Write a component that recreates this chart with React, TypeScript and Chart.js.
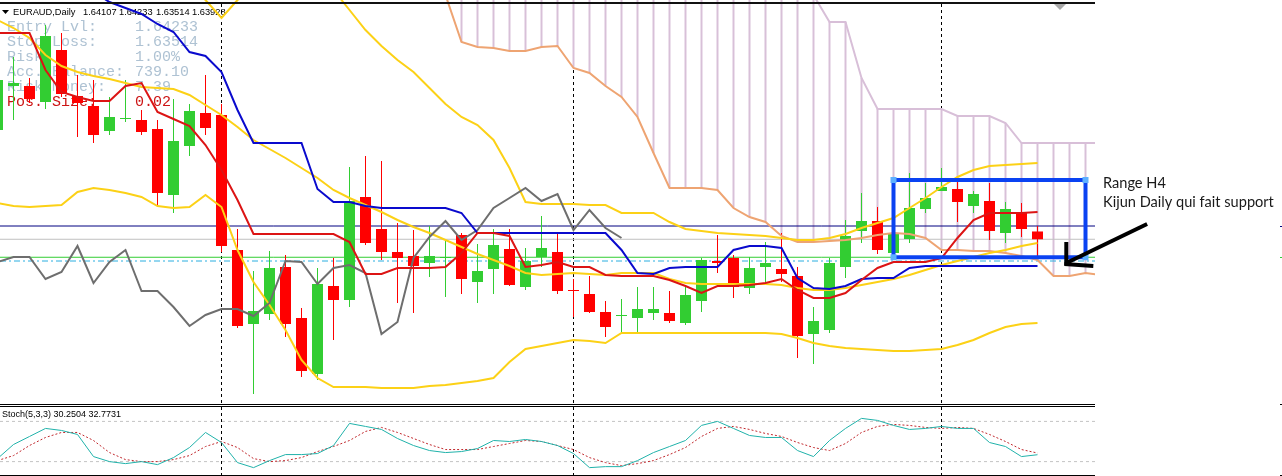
import React, { useEffect, useRef } from "react";
import { Chart, registerables } from "chart.js";

Chart.register(...registerables);

// ---------- DATA (EURAUD, Daily) ----------
// candle index k = 0..65 (oldest → newest)
const OPEN = [
  1.66441, 1.67453, 1.67453, 1.67085, 1.68281, 1.67223, 1.66993, 1.66418, 1.66694, 1.66671,
  1.66464, 1.64946, 1.66073, 1.66832, 1.66786, 1.63681, 1.61979, 1.62209, 1.63290, 1.62117,
  1.60829, 1.62853, 1.62531, 1.64900, 1.64164, 1.63635, 1.63543, 1.63382, 1.63497, 1.64026,
  1.62945, 1.63244, 1.63704, 1.62830, 1.63520, 1.63635, 1.62761, 1.62669, 1.62255, 1.62163,
  1.62117, 1.62232, 1.62232, 1.62002, 1.62508, 1.63428, 1.63497, 1.62807, 1.63290, 1.63244,
  1.63083, 1.61749, 1.61841, 1.63290, 1.64118, 1.64348, 1.63612, 1.63934, 1.64624, 1.65038,
  1.65084, 1.64693, 1.64808, 1.64072, 1.64555, 1.64107,
];
const HIGH = [
  1.67706, 1.68120, 1.67637, 1.68856, 1.68672, 1.67706, 1.67591, 1.67200, 1.67591, 1.66901,
  1.66671, 1.67154, 1.67039, 1.67706, 1.67039, 1.64164, 1.63198, 1.63658, 1.63566, 1.62347,
  1.63267, 1.63497, 1.65590, 1.65843, 1.65728, 1.64302, 1.64141, 1.64233, 1.63911, 1.64072,
  1.63819, 1.64164, 1.64164, 1.63727, 1.64463, 1.64049, 1.63014, 1.63083, 1.62508, 1.62554,
  1.62830, 1.62830, 1.62738, 1.62876, 1.63497, 1.64026, 1.63566, 1.63520, 1.63865, 1.64072,
  1.63290, 1.62370, 1.63497, 1.64371, 1.64992, 1.64670, 1.64072, 1.65452, 1.65222, 1.65567,
  1.65360, 1.65038, 1.65222, 1.64785, 1.64762, 1.64233,
];
const LOW = [
  1.66326, 1.66671, 1.67062, 1.66924, 1.67200, 1.66280, 1.66142, 1.66326, 1.66625, 1.66326,
  1.64670, 1.64532, 1.65843, 1.66326, 1.63635, 1.61887, 1.60369, 1.62071, 1.61680, 1.60760,
  1.60691, 1.61611, 1.62370, 1.63796, 1.63451, 1.62462, 1.62232, 1.63060, 1.62600, 1.62669,
  1.62462, 1.62669, 1.62853, 1.62761, 1.63290, 1.62669, 1.62140, 1.62232, 1.61680, 1.61772,
  1.61772, 1.62071, 1.62002, 1.61956, 1.62255, 1.63152, 1.62577, 1.62669, 1.62922, 1.62945,
  1.61197, 1.61059, 1.61772, 1.63037, 1.63842, 1.63589, 1.63589, 1.63842, 1.64532, 1.65038,
  1.64325, 1.64532, 1.63911, 1.63842, 1.63980, 1.63514,
];
const CLOSE = [
  1.67591, 1.67522, 1.67154, 1.68603, 1.67269, 1.67062, 1.66326, 1.66740, 1.66717, 1.66395,
  1.64992, 1.66188, 1.66878, 1.66487, 1.63773, 1.61933, 1.62278, 1.63267, 1.61979, 1.60898,
  1.62899, 1.62531, 1.64808, 1.63842, 1.63635, 1.63497, 1.63313, 1.63543, 1.63520, 1.63014,
  1.63198, 1.63796, 1.62876, 1.63428, 1.63727, 1.62738, 1.62738, 1.62255, 1.61910, 1.62186,
  1.62324, 1.62324, 1.62048, 1.62646, 1.63451, 1.63382, 1.62830, 1.63267, 1.63382, 1.63129,
  1.61703, 1.62048, 1.63382, 1.64003, 1.64348, 1.63681, 1.64049, 1.64647, 1.64877, 1.65130,
  1.64785, 1.64969, 1.64118, 1.64624, 1.64164, 1.63928,
];

// Ichimoku
const TENKAN = [
  1.68672, 1.68672, 1.68672, 1.67821, 1.67315, 1.67200, 1.67108, 1.67108, 1.67453, 1.67522,
  1.66855, 1.66694, 1.66533, 1.66096, 1.65521, 1.64831, 1.64049, 1.64049, 1.64049, 1.64049,
  1.64049, 1.64049, 1.63865, 1.63129, 1.63129, 1.63267, 1.63267, 1.63267, 1.63290, 1.63612,
  1.64072, 1.64072, 1.64003, 1.63290, 1.63336, 1.63405, 1.63290, 1.63290, 1.63106, 1.63083,
  1.63083, 1.63083, 1.62991, 1.62853, 1.62692, 1.62853, 1.62853, 1.62876, 1.62922, 1.63014,
  1.62761, 1.62577, 1.62577, 1.62692, 1.62991, 1.63267, 1.63405, 1.63405, 1.63405, 1.63497,
  1.63957, 1.64371, 1.64532, 1.64532, 1.64532, 1.64555,
];
const KIJUN = [
  1.69891, 1.69891, 1.69891, 1.69891, 1.69891, 1.69891, 1.69615, 1.69385, 1.69247, 1.69109,
  1.68879, 1.68695, 1.68235, 1.68143, 1.67775, 1.66901, 1.66142, 1.66142, 1.66142, 1.66142,
  1.65084, 1.64785, 1.64785, 1.64693, 1.64647, 1.64647, 1.64647, 1.64647, 1.64647, 1.64532,
  1.64072, 1.64072, 1.64072, 1.64072, 1.64072, 1.64072, 1.64072, 1.64072, 1.64072, 1.63681,
  1.63152, 1.63129, 1.63267, 1.63290, 1.63290, 1.63290, 1.63681, 1.63773, 1.63773, 1.63727,
  1.63037, 1.62807, 1.62784, 1.62853, 1.63014, 1.63037, 1.63037, 1.63267, 1.63313, 1.63313,
  1.63313, 1.63313, 1.63313, 1.63313, 1.63313, 1.63313,
];
// Chikou span, plotted on candles k = 0..39
const CHIKOU = [
  1.63405, 1.63520, 1.63520, 1.63014, 1.63175, 1.63773, 1.62922, 1.63405, 1.63681, 1.62738,
  1.62738, 1.62370, 1.61933, 1.62186, 1.62324, 1.62324, 1.62163, 1.62462, 1.63428, 1.63405,
  1.62899, 1.63267, 1.63336, 1.63152, 1.61749, 1.62025, 1.63497, 1.63980, 1.64348, 1.63911,
  1.64141, 1.64647, 1.64877, 1.65107, 1.64808, 1.64969, 1.64141, 1.64601, 1.64187, 1.63957,
];
// Senkou spans, plotted on k = 27..69 (shifted forward)
const CLOUD_START = 27;
const SENKOU_A = [
  1.70121, 1.69546, 1.68465, 1.68350, 1.68327, 1.68258, 1.68258, 1.68350, 1.68373, 1.67867,
  1.67752, 1.67453, 1.67200, 1.66740, 1.65912, 1.65107, 1.65107, 1.65107, 1.65061, 1.64647,
  1.64440, 1.64325, 1.64003, 1.63865, 1.63865, 1.63888, 1.63911, 1.63957, 1.64026, 1.64072,
  1.64049, 1.63957, 1.63681, 1.63681, 1.63658, 1.63658, 1.63612, 1.63543, 1.63451, 1.63083,
  1.63083, 1.63152, 1.63106,
];
const SENKOU_B = [
  1.70351, 1.70351, 1.70351, 1.70351, 1.70351, 1.70351, 1.70351, 1.70351, 1.70351, 1.70351,
  1.70351, 1.70351, 1.70351, 1.70351, 1.70351, 1.70351, 1.70351, 1.70351, 1.70351, 1.70351,
  1.70351, 1.70351, 1.70351, 1.70351, 1.69546, 1.68925, 1.68925, 1.67637, 1.66924, 1.66924,
  1.66924, 1.66924, 1.66924, 1.66763, 1.66763, 1.66763, 1.66602, 1.66142, 1.66142, 1.66142,
  1.66142, 1.66142, 1.66142,
];

// Bollinger bands
const BB_UPPER = [
  1.70351, 1.70351, 1.70351, 1.70351, 1.70351, 1.70351, 1.70351, 1.70351, 1.70351, 1.70351,
  1.70351, 1.70351, 1.69776, 1.69431, 1.69017, 1.69431, 1.69661, 1.69776, 1.69891, 1.69983,
  1.69937, 1.69661, 1.69201, 1.68741, 1.68373, 1.68051, 1.67775, 1.67407, 1.67039, 1.66740,
  1.66556, 1.66211, 1.65567, 1.64785, 1.64739, 1.64739, 1.64739, 1.64716, 1.64716, 1.64532,
  1.64532, 1.64532, 1.64325, 1.64164, 1.64118, 1.64072, 1.64049, 1.64026, 1.64003, 1.63957,
  1.63911, 1.63911, 1.63957, 1.64049, 1.64187, 1.64302, 1.64417, 1.64647, 1.64877, 1.65130,
  1.65360, 1.65521, 1.65613, 1.65636, 1.65659, 1.65682,
];
const BB_MIDDLE = [
  1.68971, 1.68787, 1.68557, 1.68166, 1.67913, 1.67775, 1.67683, 1.67614, 1.67522, 1.67430,
  1.67407, 1.67384, 1.67246, 1.67016, 1.66786, 1.66510, 1.66211, 1.66004, 1.65797, 1.65567,
  1.65337, 1.65061, 1.64877, 1.64716, 1.64555, 1.64371, 1.64210, 1.64072, 1.63911, 1.63750,
  1.63589, 1.63451, 1.63313, 1.63152, 1.63106, 1.63129, 1.63152, 1.63129, 1.63106, 1.63152,
  1.63152, 1.63152, 1.63014, 1.62922, 1.62899, 1.62899, 1.62899, 1.62899, 1.62899, 1.62876,
  1.62807, 1.62761, 1.62761, 1.62807, 1.62876, 1.62945, 1.63014, 1.63106, 1.63221, 1.63336,
  1.63428, 1.63520, 1.63612, 1.63681, 1.63773, 1.63842,
];
const BB_LOWER = [
  1.64762, 1.64693, 1.64670, 1.64693, 1.64716, 1.65015, 1.65107, 1.65061, 1.64992, 1.64900,
  1.64693, 1.64647, 1.64670, 1.64946, 1.64670, 1.63681, 1.62945, 1.62416, 1.61841, 1.61151,
  1.60737, 1.60530, 1.60530, 1.60530, 1.60507, 1.60507, 1.60507, 1.60553, 1.60576, 1.60622,
  1.60668, 1.60737, 1.61105, 1.61404, 1.61473, 1.61542, 1.61611, 1.61588, 1.61542, 1.61772,
  1.61772, 1.61772, 1.61772, 1.61772, 1.61772, 1.61772, 1.61772, 1.61772, 1.61772, 1.61749,
  1.61657, 1.61542, 1.61473, 1.61427, 1.61404, 1.61381, 1.61358, 1.61358, 1.61381, 1.61404,
  1.61496, 1.61611, 1.61772, 1.61910, 1.61979, 1.62002,
];

// Stochastic (5,3,3)
const STOCH_MAIN = [
  24.5, 45.5, 57.5, 69.5, 66.5, 60.5, 27.5, 20, 17, 20,
  15.5, 26, 41, 63.5, 48.5, 18.5, 11, 21.5, 30.5, 30.5,
  32, 44, 77, 72.5, 68, 54.5, 44, 36.5, 33.5, 35,
  39.5, 51.5, 50, 53, 50, 44, 32, 11, 12.5, 12.5,
  21.5, 33.5, 42.5, 51.5, 74, 80, 69.5, 59, 56, 56,
  36.5, 27.5, 51.5, 69.5, 84.5, 81.5, 74, 68, 69.5, 72.5,
  69.5, 69.5, 48.5, 42.5, 27.5, 30.2504,
];
const STOCH_SIGNAL = [
  21.5, 29, 44, 56, 63.5, 63.5, 51.5, 33.5, 23, 20,
  20, 23, 29, 42.5, 50, 41, 24.5, 20, 21.5, 26,
  35, 42.5, 51.5, 65, 71, 63.5, 54.5, 45.5, 38, 38,
  38, 42.5, 47, 51.5, 50, 44, 38, 26, 18.5, 14,
  17, 21.5, 30.5, 41, 57.5, 69.5, 72.5, 68, 62, 57.5,
  48.5, 41, 36.5, 47, 63.5, 72.5, 75.5, 74, 71, 69.5,
  71, 69.5, 60.5, 50, 38, 32.7731,
];
const STOCH_LEVELS = [80, 20];

// Price levels
const ENTRY_LEVEL = 1.64233;
const BID_LEVEL = 1.63928;
const STOP_LEVEL = 1.63514;
const DASH_LEVEL = 1.63428;

// Month separators (candle indices)
const PERIOD_SEPARATORS = [14, 36, 59];

// Texts
const SYMBOL_LABEL = "EURAUD,Daily";
const OHLC_LABELS = ["1.64107", "1.64233", "1.63514", "1.63928"];
const PS_LABELS = ["Entry Lvl:", "Stop Loss:", "Risk:", "Acc. Balance:", "Risk Money:", "Pos. Size:"];
const PS_VALUES = ["1.64233", "1.63514", "1.00%", "739.10", "7.39", "0.02"];
const STOCH_LABEL = "Stoch(5,3,3) 30.2504 32.7731";
const NOTE_LINES = ["Range H4", "Kijun Daily qui fait support"];

// Range box (candle indices / prices) and arrow anchor
const BOX_RANGE = { from: 56, to: 68, top: 1.65291, bottom: 1.63514 };
const ARROW_TIP = { x: 66.8, y: 1.63382 };
const ARROW_TAIL = { x: 71.85, y: 1.64279 };

// ---------- SCALES ----------
const X_MIN = 0.15625;
const X_MAX = 68.59375;
const PRICE_MIN = 1.60116;
const PRICE_MAX = 1.69431;

const RED = "#ff0000";
const GREEN = "#32cd32";

const pts = (arr: number[], start = 0) => arr.map((v, i) => ({ x: i + start, y: v }));
const hline = (v: number) => [
  { x: X_MIN, y: v },
  { x: X_MAX, y: v },
];

const lineDs = (label: string, data: any[], color: string, width: number, order: number, extra: any = {}) => ({
  type: "line",
  label,
  data,
  borderColor: color,
  borderWidth: width,
  pointRadius: 0,
  tension: 0,
  fill: false,
  clip: 0,
  order,
  ...extra,
});

const mainDeco = {
  id: "mainDeco",
  beforeDatasetsDraw(chart: any) {
    const { ctx } = chart;
    const xs = chart.scales.x;
    ctx.save();
    ctx.strokeStyle = "#000";
    ctx.lineWidth = 1;
    ctx.setLineDash([3, 3]);
    for (const k of PERIOD_SEPARATORS) {
      const px = Math.floor(xs.getPixelForValue(k)) + 0.5;
      ctx.beginPath();
      ctx.moveTo(px, 4);
      ctx.lineTo(px, 404);
      ctx.stroke();
    }
    ctx.setLineDash([]);
    // header
    ctx.fillStyle = "#000";
    ctx.beginPath();
    ctx.moveTo(2, 10);
    ctx.lineTo(9, 10);
    ctx.lineTo(5.5, 14);
    ctx.closePath();
    ctx.fill();
    ctx.font = '9.3px "Liberation Sans", Arial, sans-serif';
    ctx.textBaseline = "middle";
    ctx.fillText(SYMBOL_LABEL, 13, 12);
    const hx = [83, 119, 156, 192];
    OHLC_LABELS.forEach((t, i) => ctx.fillText(t, hx[i], 12));
    // position size block
    ctx.font = '15px "Liberation Mono", monospace';
    PS_LABELS.forEach((label, i) => {
      ctx.fillStyle = i === PS_LABELS.length - 1 ? "#cc1414" : "#aec2d3";
      const yy = 27 + i * 15;
      ctx.fillText(label, 7, yy);
      ctx.fillText(PS_VALUES[i], 135, yy);
    });
    ctx.restore();
  },
  afterDatasetsDraw(chart: any) {
    const { ctx } = chart;
    const xs = chart.scales.x;
    const ys = chart.scales.y;
    ctx.save();
    // range box
    const bx0 = xs.getPixelForValue(BOX_RANGE.from);
    const bx1 = xs.getPixelForValue(BOX_RANGE.to);
    const by0 = ys.getPixelForValue(BOX_RANGE.top);
    const by1 = ys.getPixelForValue(BOX_RANGE.bottom);
    ctx.strokeStyle = "#0a42f2";
    ctx.lineWidth = 4;
    ctx.strokeRect(bx0, by0, bx1 - bx0, by1 - by0);
    ctx.fillStyle = "#5eb0ff";
    ctx.strokeStyle = "#1a6fd8";
    ctx.lineWidth = 1;
    [
      [bx0, by0],
      [bx1, by0],
      [bx0, by1],
      [bx1, by1],
    ].forEach(([cx, cy]) => {
      ctx.fillRect(cx - 3, cy - 3, 6, 6);
    });
    // arrow
    const tx = xs.getPixelForValue(ARROW_TIP.x);
    const ty = ys.getPixelForValue(ARROW_TIP.y);
    const sx = xs.getPixelForValue(ARROW_TAIL.x);
    const sy = ys.getPixelForValue(ARROW_TAIL.y);
    ctx.strokeStyle = "#000";
    ctx.lineWidth = 4;
    ctx.lineCap = "butt";
    ctx.beginPath();
    ctx.moveTo(sx, sy);
    ctx.lineTo(tx, ty);
    ctx.stroke();
    ctx.beginPath();
    ctx.moveTo(tx, ty - 21);
    ctx.lineTo(tx, ty + 2);
    ctx.stroke();
    ctx.beginPath();
    ctx.moveTo(tx - 2, ty + 1);
    ctx.lineTo(tx + 27, ty + 3);
    ctx.stroke();
    // note text
    ctx.fillStyle = "#1a1a1a";
    ctx.textBaseline = "alphabetic";
    ctx.font = "14px Lato, sans-serif";
    const w = ctx.measureText(NOTE_LINES[1]).width;
    const size = (14 * 171) / w;
    ctx.font = `${size}px Lato, sans-serif`;
    ctx.fillText(NOTE_LINES[0], 1103, 188);
    ctx.fillText(NOTE_LINES[1], 1103, 207);
    // frame lines
    ctx.fillStyle = "#111";
    ctx.fillRect(0, 2, 1095, 2);
    ctx.fillStyle = "#000";
    ctx.fillRect(0, 404, 1095, 1);
    // shift marker
    ctx.fillStyle = "#a8a8a8";
    ctx.beginPath();
    ctx.moveTo(1054, 4);
    ctx.lineTo(1066, 4);
    ctx.lineTo(1060, 10);
    ctx.closePath();
    ctx.fill();
    // right edge ticks
    ctx.fillStyle = "#000080";
    ctx.fillRect(1280, 226, 2, 1);
    ctx.fillStyle = GREEN;
    ctx.fillRect(1280, 257, 2, 1);
    ctx.fillStyle = "#000";
    ctx.fillRect(1280, 404, 2, 1);
    ctx.restore();
  },
};

const stochDeco = {
  id: "stochDeco",
  beforeDatasetsDraw(chart: any) {
    const { ctx } = chart;
    const xs = chart.scales.x;
    ctx.save();
    ctx.strokeStyle = "#000";
    ctx.lineWidth = 1;
    ctx.setLineDash([3, 3]);
    for (const k of PERIOD_SEPARATORS) {
      const px = Math.floor(xs.getPixelForValue(k)) + 0.5;
      ctx.beginPath();
      ctx.moveTo(px, 2);
      ctx.lineTo(px, 70);
      ctx.stroke();
    }
    ctx.setLineDash([]);
    ctx.fillStyle = "#000";
    ctx.font = '9px "Liberation Sans", Arial, sans-serif';
    ctx.textBaseline = "middle";
    ctx.fillText(STOCH_LABEL, 2, 10);
    ctx.restore();
  },
  afterDatasetsDraw(chart: any) {
    const { ctx } = chart;
    ctx.save();
    ctx.fillStyle = "#000";
    ctx.fillRect(0, 1, 1095, 1);
    ctx.fillRect(0, 70, 1095, 1);
    ctx.fillRect(1280, 70, 2, 1);
    ctx.restore();
  },
};

function mainConfig(): any {
  const hatch = SENKOU_A.map((a, i) => ({ x: i + CLOUD_START, y: [a, SENKOU_B[i]] }));
  const bodies = OPEN.map((o, i) => ({ x: i, y: [o, CLOSE[i]] }));
  const bodyColors = OPEN.map((o, i) => (CLOSE[i] >= o ? GREEN : RED));
  const wicks = HIGH.map((h, i) => ({ x: i, y: [LOW[i], h] }));
  return {
    type: "bar",
    data: {
      datasets: [
        {
          type: "bar",
          label: "cloud",
          data: hatch,
          backgroundColor: "#d8c0d8",
          barThickness: 2,
          grouped: false,
          inflateAmount: 0,
          borderWidth: 0,
          clip: 0,
          order: 100,
        },
        lineDs("entry", hline(ENTRY_LEVEL), "#000080", 1, 90),
        lineDs("bid", hline(BID_LEVEL), "#c0c0c0", 1, 90),
        lineDs("stop", hline(STOP_LEVEL), GREEN, 1, 90),
        lineDs("dash", hline(DASH_LEVEL), "#2aaee0", 1, 90, { borderDash: [6, 3, 2, 3] }),
        {
          type: "bar",
          label: "wicks",
          data: wicks,
          backgroundColor: bodyColors,
          barThickness: 1,
          grouped: false,
          inflateAmount: 0,
          borderWidth: 0,
          minBarLength: 1,
          clip: 0,
          order: 80,
        },
        {
          type: "bar",
          label: "bodies",
          data: bodies,
          backgroundColor: bodyColors,
          barThickness: 11,
          grouped: false,
          inflateAmount: 0,
          borderWidth: 0,
          minBarLength: 1,
          clip: 0,
          order: 70,
        },
        lineDs("senkouA", pts(SENKOU_A, CLOUD_START), "#eea472", 2, 60),
        lineDs("senkouB", pts(SENKOU_B, CLOUD_START), "#d8bfd8", 2, 60),
        lineDs("bbUpper", pts(BB_UPPER), "#fcd116", 2, 50),
        lineDs("bbMiddle", pts(BB_MIDDLE), "#fcd116", 2, 50),
        lineDs("bbLower", pts(BB_LOWER), "#fcd116", 2, 50),
        lineDs("chikou", pts(CHIKOU), "#6e6e6e", 2, 40),
        lineDs("kijun", pts(KIJUN), "#0a0acd", 2, 30),
        lineDs("tenkan", pts(TENKAN), "#dc1414", 2, 20),
      ],
    },
    options: {
      animation: false,
      responsive: false,
      maintainAspectRatio: false,
      devicePixelRatio: 1,
      events: [],
      layout: { padding: { left: 0, right: 187, top: 0, bottom: 0 } },
      plugins: { legend: { display: false }, tooltip: { enabled: false } },
      scales: {
        x: { type: "linear", min: X_MIN, max: X_MAX, display: false, offset: false, bounds: "data" },
        y: { type: "linear", min: PRICE_MIN, max: PRICE_MAX, display: false, bounds: "data", beginAtZero: false },
      },
    },
    plugins: [mainDeco],
  };
}

function stochConfig(): any {
  return {
    type: "line",
    data: {
      datasets: [
        ...STOCH_LEVELS.map((lv) => lineDs("level" + lv, hline(lv), "#c4c4c4", 1, 50, { borderDash: [3, 3] })),
        lineDs("signal", pts(STOCH_SIGNAL), "#c0282d", 1, 20, { borderDash: [2, 2] }),
        lineDs("main", pts(STOCH_MAIN), "#20b2aa", 1, 10),
      ],
    },
    options: {
      animation: false,
      responsive: false,
      maintainAspectRatio: false,
      devicePixelRatio: 1,
      events: [],
      layout: { padding: { left: 0, right: 187, top: 3, bottom: 1 } },
      plugins: { legend: { display: false }, tooltip: { enabled: false } },
      scales: {
        x: { type: "linear", min: X_MIN, max: X_MAX, display: false, offset: false, bounds: "data" },
        y: { type: "linear", min: 0, max: 100, display: false, bounds: "data" },
      },
    },
    plugins: [stochDeco],
  };
}

export default function App() {
  const mainRef = useRef<HTMLCanvasElement>(null);
  const stochRef = useRef<HTMLCanvasElement>(null);
  useEffect(() => {
    document.body.style.margin = "0";
    const main = new Chart(mainRef.current as HTMLCanvasElement, mainConfig());
    const stoch = new Chart(stochRef.current as HTMLCanvasElement, stochConfig());
    return () => {
      main.destroy();
      stoch.destroy();
    };
  }, []);
  return (
    <div style={{ position: "relative", width: 1282, height: 476, background: "#fff", overflow: "hidden" }}>
      <canvas ref={mainRef} width={1282} height={405} style={{ position: "absolute", left: 0, top: 0 }} />
      <canvas ref={stochRef} width={1282} height={71} style={{ position: "absolute", left: 0, top: 405 }} />
    </div>
  );
}
